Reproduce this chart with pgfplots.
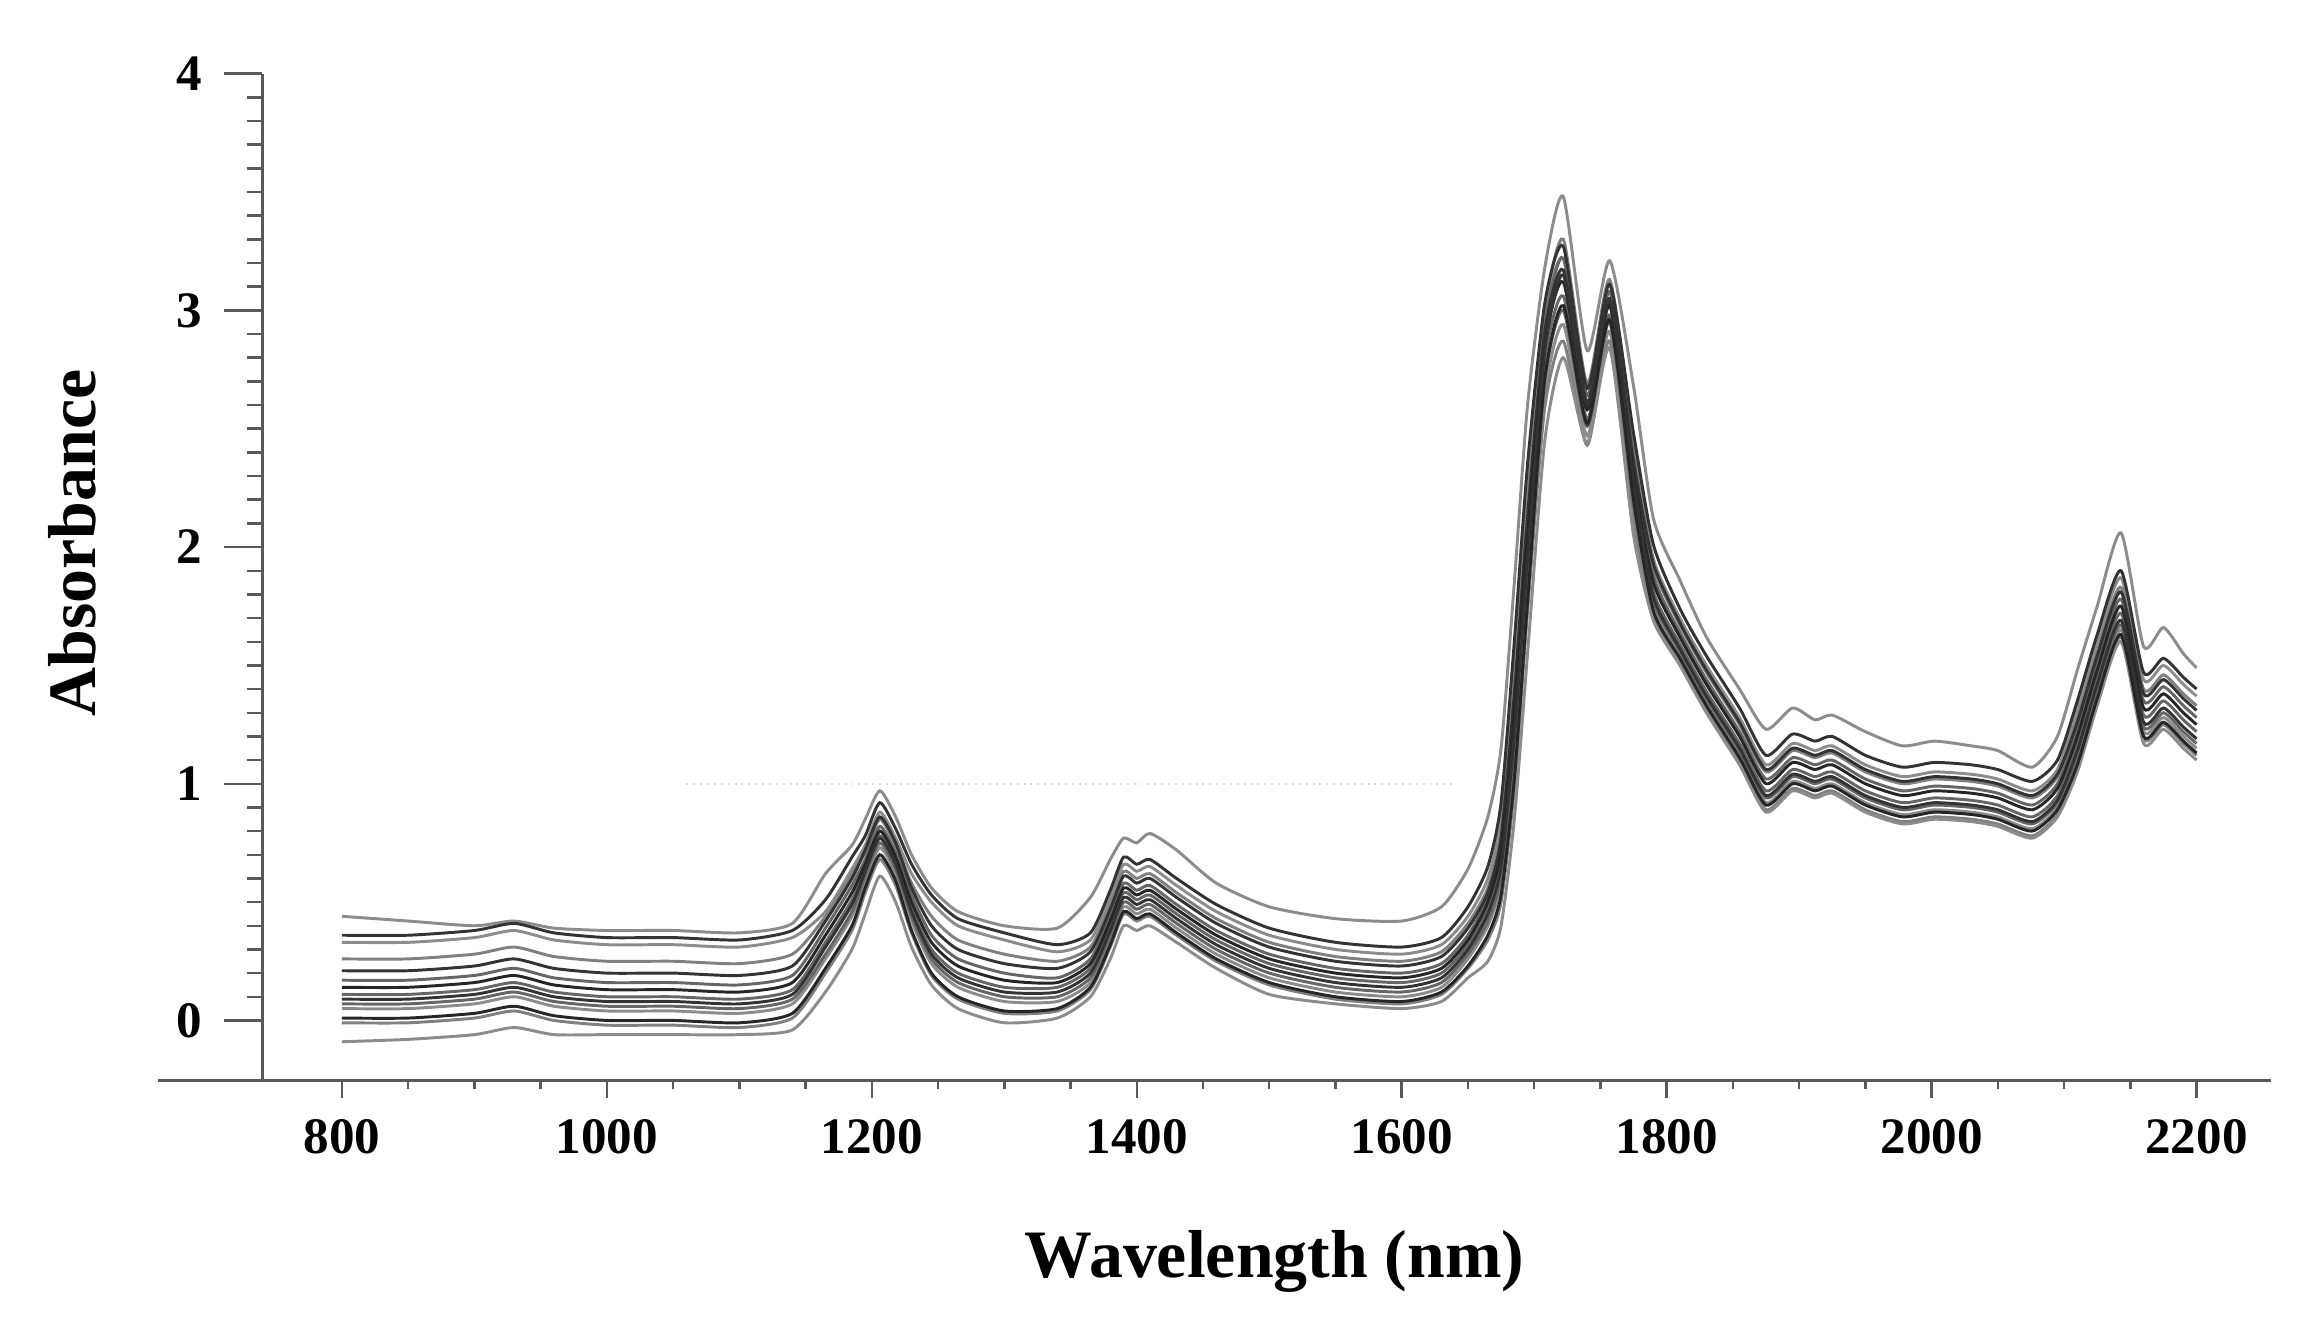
\documentclass[border=0pt]{standalone}
\usepackage{fontspec}
\setmainfont{Liberation Serif}
\usepackage{pgfplots}
\usepackage{pgfplotstable}
\pgfplotsset{compat=1.18}

% NIR absorbance spectra
\pgfplotstableread{
lam  c1   c2   c3   c4   c5   c6   c7   c8   c9   c10  c11  c12  c13  c14
800  0.44 0.36 0.33 0.26 0.21 0.17 0.14 0.11 0.09 0.07 0.05 0.01 -0.01 -0.09
850  0.42 0.36 0.33 0.26 0.21 0.17 0.14 0.11 0.09 0.07 0.05 0.01 -0.01 -0.08
900  0.40 0.38 0.35 0.28 0.23 0.19 0.16 0.13 0.11 0.09 0.07 0.03 0.01 -0.06
930  0.42 0.41 0.38 0.31 0.26 0.22 0.19 0.16 0.14 0.12 0.10 0.06 0.04 -0.03
960  0.39 0.37 0.34 0.27 0.22 0.18 0.15 0.12 0.10 0.08 0.06 0.02 0.00 -0.06
1000 0.38 0.35 0.32 0.25 0.20 0.16 0.13 0.10 0.08 0.06 0.04 0.00 -0.02 -0.06
1050 0.38 0.35 0.32 0.25 0.20 0.16 0.13 0.10 0.08 0.06 0.04 0.00 -0.02 -0.06
1100 0.37 0.34 0.31 0.24 0.19 0.15 0.12 0.09 0.07 0.05 0.03 -0.01 -0.03 -0.06
1140 0.41 0.38 0.35 0.28 0.23 0.19 0.16 0.13 0.11 0.09 0.07 0.03 0.01 -0.04
1165 0.62 0.51 0.46 0.44 0.42 0.39 0.36 0.33 0.31 0.28 0.26 0.22 0.20 0.12
1185 0.74 0.69 0.64 0.62 0.60 0.57 0.54 0.51 0.49 0.46 0.44 0.40 0.38 0.30
1195 0.85 0.78 0.74 0.71 0.72 0.68 0.66 0.64 0.63 0.61 0.59 0.56 0.54 0.45
1206 0.97 0.92 0.88 0.85 0.86 0.82 0.80 0.78 0.77 0.75 0.73 0.70 0.68 0.61
1218 0.86 0.81 0.77 0.74 0.75 0.71 0.69 0.67 0.66 0.64 0.62 0.59 0.57 0.50
1230 0.70 0.66 0.62 0.58 0.56 0.53 0.50 0.47 0.46 0.44 0.42 0.38 0.37 0.31
1245 0.56 0.53 0.50 0.44 0.40 0.36 0.33 0.30 0.28 0.26 0.24 0.20 0.19 0.15
1265 0.46 0.43 0.40 0.34 0.30 0.26 0.23 0.20 0.18 0.16 0.14 0.10 0.09 0.05
1300 0.40 0.37 0.34 0.28 0.24 0.20 0.17 0.14 0.12 0.10 0.08 0.04 0.03 -0.01
1340 0.39 0.32 0.29 0.25 0.22 0.18 0.16 0.14 0.12 0.10 0.08 0.05 0.04 0.01
1365 0.52 0.37 0.34 0.31 0.29 0.26 0.24 0.22 0.20 0.18 0.16 0.14 0.13 0.10
1380 0.68 0.55 0.52 0.49 0.47 0.44 0.42 0.40 0.38 0.36 0.34 0.32 0.31 0.26
1390 0.77 0.69 0.66 0.63 0.61 0.58 0.56 0.54 0.52 0.50 0.48 0.46 0.45 0.40
1400 0.75 0.66 0.63 0.60 0.58 0.55 0.53 0.51 0.49 0.47 0.45 0.43 0.42 0.38
1410 0.79 0.68 0.65 0.62 0.60 0.57 0.55 0.53 0.51 0.49 0.47 0.45 0.44 0.40
1430 0.72 0.60 0.57 0.54 0.52 0.49 0.47 0.45 0.43 0.41 0.39 0.37 0.36 0.33
1460 0.58 0.49 0.46 0.43 0.41 0.38 0.36 0.34 0.32 0.30 0.28 0.26 0.25 0.22
1500 0.48 0.39 0.36 0.33 0.31 0.28 0.26 0.24 0.22 0.20 0.18 0.16 0.15 0.11
1550 0.43 0.33 0.30 0.27 0.25 0.22 0.20 0.18 0.16 0.14 0.12 0.10 0.09 0.07
1600 0.42 0.31 0.28 0.25 0.23 0.20 0.18 0.16 0.14 0.12 0.10 0.08 0.07 0.05
1630 0.48 0.35 0.32 0.29 0.27 0.24 0.22 0.20 0.18 0.16 0.14 0.12 0.11 0.08
1650 0.64 0.48 0.44 0.41 0.39 0.36 0.34 0.32 0.30 0.28 0.26 0.23 0.22 0.18
1665 0.86 0.65 0.60 0.56 0.54 0.52 0.50 0.47 0.45 0.42 0.40 0.36 0.34 0.25
1675 1.15 0.92 0.86 0.80 0.77 0.75 0.72 0.68 0.65 0.61 0.58 0.53 0.50 0.40
1685 1.85 1.60 1.50 1.42 1.38 1.34 1.30 1.24 1.20 1.14 1.10 1.02 0.98 0.85
1695 2.60 2.35 2.25 2.17 2.13 2.09 2.05 1.99 1.95 1.89 1.85 1.77 1.73 1.55
1708 3.18 3.03 2.97 2.99 2.91 2.93 2.85 2.79 2.83 2.71 2.65 2.71 2.59 2.45
1722 3.48 3.27 3.22 3.30 3.17 3.22 3.12 3.06 3.15 3.00 2.94 3.02 2.87 2.80
1740 2.83 2.67 2.64 2.69 2.61 2.64 2.58 2.54 2.60 2.51 2.47 2.52 2.43 2.44
1757 3.21 3.11 3.08 3.13 3.05 3.08 3.02 2.98 3.04 2.95 2.91 2.96 2.87 2.84
1775 2.68 2.48 2.42 2.44 2.36 2.38 2.30 2.24 2.28 2.18 2.14 2.20 2.10 2.05
1790 2.12 2.01 1.95 1.92 1.93 1.88 1.85 1.81 1.79 1.77 1.75 1.73 1.71 1.69
1810 1.86 1.74 1.70 1.67 1.68 1.64 1.62 1.59 1.57 1.56 1.54 1.53 1.51 1.50
1830 1.62 1.54 1.50 1.47 1.48 1.44 1.42 1.39 1.37 1.36 1.34 1.33 1.31 1.30
1855 1.40 1.32 1.28 1.25 1.26 1.22 1.20 1.17 1.15 1.14 1.12 1.11 1.09 1.08
1875 1.23 1.12 1.08 1.05 1.06 1.02 1.00 0.97 0.95 0.94 0.92 0.91 0.89 0.88
1895 1.32 1.21 1.17 1.14 1.15 1.11 1.09 1.06 1.04 1.03 1.01 1.00 0.98 0.97
1912 1.27 1.18 1.14 1.11 1.12 1.08 1.06 1.03 1.01 1.00 0.98 0.97 0.95 0.94
1925 1.29 1.20 1.16 1.13 1.14 1.10 1.08 1.05 1.03 1.02 1.00 0.99 0.97 0.96
1950 1.22 1.12 1.08 1.05 1.06 1.02 1.00 0.97 0.95 0.94 0.92 0.91 0.89 0.88
1978 1.16 1.07 1.03 1.00 1.01 0.97 0.95 0.92 0.90 0.89 0.87 0.86 0.84 0.83
2002 1.18 1.09 1.05 1.02 1.03 0.99 0.97 0.94 0.92 0.91 0.89 0.88 0.86 0.85
2030 1.16 1.08 1.04 1.01 1.02 0.98 0.96 0.93 0.91 0.90 0.88 0.87 0.85 0.84
2050 1.14 1.06 1.02 0.99 1.00 0.96 0.94 0.91 0.89 0.88 0.86 0.85 0.83 0.82
2076 1.07 1.01 0.97 0.94 0.95 0.91 0.89 0.86 0.84 0.83 0.81 0.80 0.78 0.77
2095 1.20 1.10 1.06 1.03 1.04 1.00 0.98 0.95 0.93 0.92 0.90 0.89 0.87 0.86
2110 1.48 1.35 1.32 1.28 1.26 1.23 1.20 1.17 1.14 1.12 1.10 1.08 1.07 1.05
2125 1.75 1.63 1.60 1.56 1.54 1.51 1.48 1.45 1.42 1.40 1.38 1.36 1.35 1.33
2143 2.06 1.90 1.87 1.83 1.81 1.78 1.75 1.72 1.69 1.67 1.65 1.63 1.62 1.60
2160 1.58 1.47 1.44 1.40 1.38 1.35 1.32 1.29 1.26 1.24 1.22 1.20 1.19 1.17
2175 1.66 1.53 1.50 1.46 1.44 1.41 1.38 1.35 1.32 1.30 1.28 1.26 1.25 1.23
2190 1.55 1.45 1.42 1.38 1.36 1.33 1.30 1.27 1.24 1.22 1.20 1.18 1.17 1.15
2200 1.49 1.40 1.37 1.33 1.31 1.28 1.25 1.22 1.19 1.17 1.15 1.13 1.12 1.10
}\spectra

\begin{document}
\begin{tikzpicture}
  \begin{axis}[
      name=ax,
      scale only axis,
      width=408.6pt,
      height=204.9pt,
      xmin=740, xmax=2256,
      ymin=-0.255, ymax=4,
      axis x line=bottom,
      axis y line=left,
      axis line style={-, black!65, line width=0.6pt},
      xtick={800,1000,...,2200},
      minor x tick num=3,
      ytick={0,1,2,3,4},
      minor y tick num=9,
      tick align=outside,
      xtick style={black!65, line width=0.5pt, /pgfplots/major tick length=3.4pt, /pgfplots/minor tick length=1.7pt},
      ytick style={black!65, line width=0.5pt, /pgfplots/major tick length=7.9pt, /pgfplots/minor tick length=3.2pt},
      /pgf/number format/assume math mode=true,
      ticklabel style={font=\fontsize{10.4}{12}\selectfont\bfseries},
      xticklabel style={/pgf/number format/1000 sep={}},
      yticklabel style={xshift=-4.5pt},
      every axis x label/.style={at={(axis description cs:0.504,-0.195)}, anchor=base},
      every axis y label/.style={at={(axis description cs:-0.083,0.534)}, anchor=base, rotate=90},
      label style={font=\fontsize{13.8}{16}\selectfont\bfseries},
      xlabel={Wavelength (nm)},
      ylabel={Absorbance},
      clip=false,
      every axis plot/.append style={line width=0.6pt, smooth, tension=0.4}
    ]
    \draw[black!15, densely dotted] (axis cs:1060,1) -- (axis cs:1640,1);
    \addplot[black!45] table[x=lam, y=c1]  {\spectra};
    \addplot[black!45] table[x=lam, y=c3]  {\spectra};
    \addplot[black!50] table[x=lam, y=c4]  {\spectra};
    \addplot[black!45] table[x=lam, y=c11] {\spectra};
    \addplot[black!50] table[x=lam, y=c13] {\spectra};
    \addplot[black!45] table[x=lam, y=c14] {\spectra};
    \addplot[black!60] table[x=lam, y=c6]  {\spectra};
    \addplot[black!60] table[x=lam, y=c8]  {\spectra};
    \addplot[black!60] table[x=lam, y=c10] {\spectra};
    \addplot[black!80] table[x=lam, y=c2]  {\spectra};
    \addplot[black!80] table[x=lam, y=c5]  {\spectra};
    \addplot[black!85] table[x=lam, y=c7]  {\spectra};
    \addplot[black!80] table[x=lam, y=c9]  {\spectra};
    \addplot[black!85] table[x=lam, y=c12] {\spectra};
  \end{axis}
  % x axis line runs on past the y axis
  \draw[black!65, line width=0.6pt] ([xshift=-21.3pt]ax.south west) -- (ax.south west);
  \path ([shift={(-53.4pt,-49.5pt)}]ax.south west) rectangle ([shift={(8.4pt,15pt)}]ax.north east);
\end{tikzpicture}
\end{document}
